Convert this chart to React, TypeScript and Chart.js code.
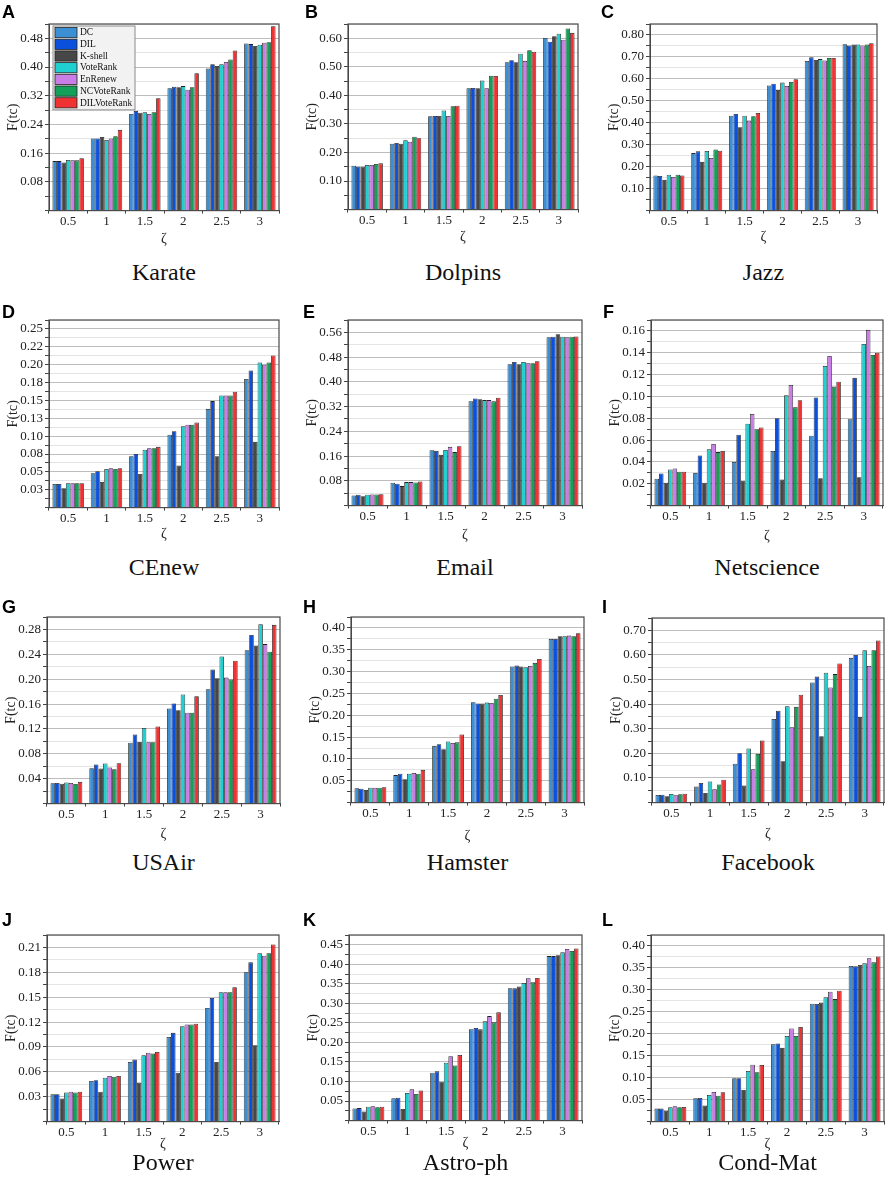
import React, { useEffect, useRef } from 'react';
import { Chart, registerables } from 'chart.js';

Chart.register(...registerables);
Chart.defaults.font.family = '"Liberation Serif", "Times New Roman", serif';
Chart.defaults.color = '#222';

// ---------- data ----------
const categories = ['0.5', '1', '1.5', '2', '2.5', '3'];
const seriesNames = ['DC', 'DIL', 'K-shell', 'VoteRank', 'EnRenew', 'NCVoteRank', 'DILVoteRank'];
const seriesColors = ['#3d8fd4', '#0a50dc', '#474747', '#20d0d0', '#c87ee6', '#15a05a', '#f03232'];

// rows: DC, DIL, K-shell, VoteRank, EnRenew, NCVoteRank, DILVoteRank ; columns: ζ categories
const karateValues = [
  [0.138, 0.201, 0.269, 0.341, 0.396, 0.466],
  [0.138, 0.201, 0.278, 0.345, 0.408, 0.464],
  [0.134, 0.205, 0.273, 0.344, 0.403, 0.459],
  [0.141, 0.197, 0.274, 0.347, 0.408, 0.462],
  [0.140, 0.201, 0.269, 0.337, 0.414, 0.468],
  [0.140, 0.207, 0.274, 0.344, 0.421, 0.469],
  [0.146, 0.225, 0.313, 0.383, 0.446, 0.514],
];
const karateTicks = ['0.08', '0.16', '0.24', '0.32', '0.40', '0.48'];

const dolpinsValues = [
  [0.154, 0.231, 0.327, 0.425, 0.516, 0.601],
  [0.151, 0.233, 0.328, 0.426, 0.523, 0.588],
  [0.151, 0.231, 0.328, 0.425, 0.516, 0.607],
  [0.156, 0.243, 0.347, 0.452, 0.546, 0.616],
  [0.156, 0.238, 0.328, 0.425, 0.521, 0.595],
  [0.160, 0.255, 0.362, 0.469, 0.558, 0.634],
  [0.162, 0.250, 0.364, 0.468, 0.553, 0.619],
];
const dolpinsTicks = ['0.10', '0.20', '0.30', '0.40', '0.50', '0.60'];

const jazzValues = [
  [0.160, 0.262, 0.432, 0.570, 0.682, 0.758],
  [0.158, 0.270, 0.440, 0.578, 0.698, 0.752],
  [0.140, 0.222, 0.380, 0.550, 0.686, 0.757],
  [0.163, 0.272, 0.432, 0.583, 0.690, 0.757],
  [0.153, 0.240, 0.410, 0.568, 0.684, 0.752],
  [0.163, 0.278, 0.430, 0.586, 0.695, 0.757],
  [0.160, 0.273, 0.445, 0.598, 0.695, 0.762],
];
const jazzTicks = ['0.10', '0.20', '0.30', '0.40', '0.50', '0.60', '0.70', '0.80'];

const cenewValues = [
  [0.033, 0.048, 0.072, 0.102, 0.138, 0.180],
  [0.033, 0.051, 0.075, 0.107, 0.149, 0.192],
  [0.027, 0.036, 0.047, 0.059, 0.072, 0.092],
  [0.034, 0.054, 0.081, 0.114, 0.157, 0.203],
  [0.034, 0.055, 0.083, 0.116, 0.157, 0.200],
  [0.034, 0.054, 0.083, 0.116, 0.157, 0.203],
  [0.034, 0.055, 0.085, 0.119, 0.162, 0.213],
];
const cenewTicks = ['0.03', '0.05', '0.08', '0.10', '0.13', '0.15', '0.18', '0.20', '0.22', '0.25'];

const emailValues = [
  [0.033, 0.074, 0.179, 0.337, 0.457, 0.544],
  [0.035, 0.071, 0.177, 0.346, 0.464, 0.546],
  [0.030, 0.063, 0.164, 0.344, 0.457, 0.554],
  [0.035, 0.076, 0.180, 0.341, 0.464, 0.546],
  [0.036, 0.076, 0.190, 0.341, 0.460, 0.544],
  [0.036, 0.075, 0.173, 0.337, 0.460, 0.546],
  [0.037, 0.078, 0.192, 0.349, 0.467, 0.547],
];
const emailTicks = ['0.08', '0.16', '0.24', '0.32', '0.40', '0.48', '0.56'];

const netscienceValues = [
  [0.0246, 0.030, 0.040, 0.050, 0.064, 0.079],
  [0.0295, 0.046, 0.065, 0.080, 0.099, 0.117],
  [0.021, 0.021, 0.023, 0.024, 0.025, 0.026],
  [0.033, 0.0515, 0.075, 0.101, 0.128, 0.148],
  [0.034, 0.0565, 0.084, 0.1105, 0.137, 0.161],
  [0.031, 0.049, 0.070, 0.090, 0.109, 0.138],
  [0.031, 0.050, 0.0715, 0.0965, 0.1135, 0.140],
];
const netscienceTicks = ['0.02', '0.04', '0.06', '0.08', '0.10', '0.12', '0.14', '0.16'];

const usairValues = [
  [0.0326, 0.057, 0.098, 0.153, 0.184, 0.2466],
  [0.033, 0.063, 0.111, 0.161, 0.2154, 0.271],
  [0.032, 0.0564, 0.099, 0.150, 0.2016, 0.254],
  [0.034, 0.0644, 0.1216, 0.1756, 0.2365, 0.2885],
  [0.033, 0.058, 0.0988, 0.146, 0.2026, 0.2564],
  [0.0315, 0.0554, 0.0988, 0.146, 0.1995, 0.2443],
  [0.035, 0.065, 0.124, 0.1725, 0.2297, 0.2874],
];
const usairTicks = ['0.04', '0.08', '0.12', '0.16', '0.20', '0.24', '0.28'];

const hamsterValues = [
  [0.033, 0.063, 0.130, 0.230, 0.3115, 0.375],
  [0.032, 0.066, 0.1335, 0.227, 0.3137, 0.375],
  [0.029, 0.0535, 0.122, 0.227, 0.3115, 0.381],
  [0.034, 0.066, 0.140, 0.229, 0.310, 0.381],
  [0.034, 0.068, 0.1365, 0.228, 0.313, 0.3824],
  [0.034, 0.066, 0.138, 0.238, 0.320, 0.381],
  [0.035, 0.075, 0.156, 0.2466, 0.329, 0.388],
];
const hamsterTicks = ['0.05', '0.10', '0.15', '0.20', '0.25', '0.30', '0.35', '0.40'];

const facebookValues = [
  [0.031, 0.065, 0.158, 0.340, 0.488, 0.588],
  [0.032, 0.080, 0.201, 0.373, 0.512, 0.600],
  [0.026, 0.039, 0.069, 0.168, 0.270, 0.348],
  [0.035, 0.086, 0.220, 0.391, 0.528, 0.619],
  [0.030, 0.054, 0.136, 0.306, 0.468, 0.555],
  [0.034, 0.074, 0.198, 0.389, 0.522, 0.619],
  [0.036, 0.093, 0.252, 0.438, 0.565, 0.659],
];
const facebookTicks = ['0.10', '0.20', '0.30', '0.40', '0.50', '0.60', '0.70'];

const powerValues = [
  [0.033, 0.049, 0.072, 0.102, 0.137, 0.180],
  [0.033, 0.050, 0.075, 0.107, 0.149, 0.192],
  [0.028, 0.036, 0.047, 0.059, 0.072, 0.092],
  [0.035, 0.053, 0.080, 0.115, 0.156, 0.203],
  [0.036, 0.055, 0.083, 0.117, 0.156, 0.200],
  [0.035, 0.054, 0.082, 0.117, 0.156, 0.203],
  [0.036, 0.055, 0.084, 0.118, 0.162, 0.2136],
];
const powerTicks = ['0.03', '0.06', '0.09', '0.12', '0.15', '0.18', '0.21'];

const astroValues = [
  [0.031, 0.057, 0.1225, 0.2335, 0.339, 0.421],
  [0.032, 0.0585, 0.126, 0.237, 0.3384, 0.421],
  [0.0235, 0.0295, 0.0995, 0.2335, 0.3435, 0.423],
  [0.0355, 0.0705, 0.148, 0.254, 0.352, 0.4306],
  [0.037, 0.080, 0.165, 0.2675, 0.364, 0.439],
  [0.034, 0.068, 0.141, 0.2514, 0.3538, 0.434],
  [0.0355, 0.0773, 0.168, 0.277, 0.3649, 0.4407],
];
const astroTicks = ['0.05', '0.10', '0.15', '0.20', '0.25', '0.30', '0.35', '0.40', '0.45'];

const condmatValues = [
  [0.0296, 0.053, 0.0986, 0.176, 0.2686, 0.3543],
  [0.0296, 0.054, 0.0986, 0.178, 0.268, 0.3536],
  [0.025, 0.0364, 0.072, 0.168, 0.271, 0.3566],
  [0.0326, 0.0607, 0.1153, 0.195, 0.283, 0.3604],
  [0.035, 0.0675, 0.1297, 0.212, 0.296, 0.3718],
  [0.0326, 0.059, 0.1123, 0.195, 0.279, 0.3627],
  [0.0334, 0.0668, 0.129, 0.2155, 0.298, 0.3763],
];
const condmatTicks = ['0.05', '0.10', '0.15', '0.20', '0.25', '0.30', '0.35', '0.40'];

type Spec = {
  letter: string;
  name: string;
  values: number[][];
  tickLabels: string[];
  major: number;
  max: number;
  legend?: boolean;
};

const panels: Spec[] = [
  { letter: 'A', name: 'Karate', values: karateValues, tickLabels: karateTicks, major: 0.08, max: 0.52, legend: true },
  { letter: 'B', name: 'Dolpins', values: dolpinsValues, tickLabels: dolpinsTicks, major: 0.1, max: 0.65 },
  { letter: 'C', name: 'Jazz', values: jazzValues, tickLabels: jazzTicks, major: 0.1, max: 0.85 },
  { letter: 'D', name: 'CEnew', values: cenewValues, tickLabels: cenewTicks, major: 0.025, max: 0.2625 },
  { letter: 'E', name: 'Email', values: emailValues, tickLabels: emailTicks, major: 0.08, max: 0.6 },
  { letter: 'F', name: 'Netscience', values: netscienceValues, tickLabels: netscienceTicks, major: 0.02, max: 0.17 },
  { letter: 'G', name: 'USAir', values: usairValues, tickLabels: usairTicks, major: 0.04, max: 0.3 },
  { letter: 'H', name: 'Hamster', values: hamsterValues, tickLabels: hamsterTicks, major: 0.05, max: 0.425 },
  { letter: 'I', name: 'Facebook', values: facebookValues, tickLabels: facebookTicks, major: 0.1, max: 0.75 },
  { letter: 'J', name: 'Power', values: powerValues, tickLabels: powerTicks, major: 0.03, max: 0.225 },
  { letter: 'K', name: 'Astro-ph', values: astroValues, tickLabels: astroTicks, major: 0.05, max: 0.475 },
  { letter: 'L', name: 'Cond-Mat', values: condmatValues, tickLabels: condmatTicks, major: 0.05, max: 0.425 },
];

// ---------- layout (page pixels) ----------
type Frame = { l: number; r: number; t: number; b: number; xt: number; title: number; cap: number; lx: number };
const frames: Frame[] = [
  { l: 49, r: 279, t: 24, b: 211, xt: 29, title: 272, cap: 5, lx: 2 },
  { l: 348, r: 578, t: 24, b: 210, xt: 28, title: 272, cap: 5, lx: 305 },
  { l: 650, r: 877, t: 24, b: 211, xt: 27, title: 272, cap: 5, lx: 601 },
  { l: 49, r: 279, t: 320, b: 508, xt: 27, title: 567, cap: 305, lx: 2 },
  { l: 348, r: 582, t: 320, b: 506, xt: 30, title: 567, cap: 305, lx: 303 },
  { l: 651, r: 883, t: 320, b: 506, xt: 31, title: 567, cap: 305, lx: 603 },
  { l: 47, r: 280, t: 617, b: 804, xt: 31, title: 862, cap: 600, lx: 2 },
  { l: 351, r: 584, t: 617, b: 803, xt: 34, title: 862, cap: 600, lx: 303 },
  { l: 652, r: 884, t: 618, b: 803, xt: 32, title: 862, cap: 600, lx: 602 },
  { l: 47, r: 279, t: 935, b: 1122, xt: 23, title: 1162, cap: 913, lx: 2 },
  { l: 349, r: 582, t: 935, b: 1121, xt: 23, title: 1162, cap: 913, lx: 303 },
  { l: 651, r: 884, t: 935, b: 1122, xt: 23, title: 1162, cap: 913, lx: 602 },
];

// ---------- plugins ----------
const frameBoxPlugin = {
  id: 'frameBox',
  afterDraw(chart: any) {
    const { ctx, chartArea } = chart;
    const { left, top, right, bottom } = chartArea;
    ctx.save();
    ctx.strokeStyle = '#4a4a4a';
    ctx.lineWidth = 1.2;
    ctx.strokeRect(left, top, right - left, bottom - top);
    ctx.restore();
  },
};

const insideLegendPlugin = {
  id: 'insideLegend',
  afterDraw(chart: any, _args: any, opts: any) {
    if (!opts || !opts.display) return;
    const { ctx, chartArea } = chart;
    const x0 = chartArea.left + 4;
    const y0 = chartArea.top + 2;
    const rowH = 11.7;
    const n = chart.data.datasets.length;
    const w = 82;
    const h = n * rowH + 2;
    ctx.save();
    ctx.fillStyle = '#f2f2f2';
    ctx.fillRect(x0, y0, w, h);
    ctx.strokeStyle = '#8a8a8a';
    ctx.lineWidth = 1;
    ctx.strokeRect(x0, y0, w, h);
    ctx.font = '9.5px "Liberation Serif", "Times New Roman", serif';
    ctx.textBaseline = 'middle';
    ctx.textAlign = 'left';
    chart.data.datasets.forEach((ds: any, i: number) => {
      const yy = y0 + 1 + i * rowH;
      ctx.fillStyle = ds.backgroundColor;
      ctx.fillRect(x0 + 2, yy + 0.5, 22, rowH - 1.5);
      ctx.strokeStyle = '#222';
      ctx.lineWidth = 0.8;
      ctx.strokeRect(x0 + 2, yy + 0.5, 22, rowH - 1.5);
      ctx.fillStyle = '#111';
      ctx.fillText(ds.label, x0 + 27, yy + rowH / 2);
    });
    ctx.restore();
  },
};

const Y_W = 48;
const PAD_T = 10;
const PAD_R = 4;

function Panel({ spec, frame }: { spec: Spec; frame: Frame }) {
  const ref = useRef<HTMLCanvasElement>(null);
  const xH = frame.xt + 8.4 + 2;
  const w = Y_W + (frame.r - frame.l) + PAD_R;
  const h = PAD_T + (frame.b - frame.t) + xH;

  useEffect(() => {
    if (!ref.current) return;
    const minor = spec.major / 2;
    const isMajor = (v: number) => {
      const k = Math.round(v / minor);
      return Math.abs(v - k * minor) < minor * 1e-3 && k % 2 === 0;
    };
    const chart = new Chart(ref.current, {
      type: 'bar',
      data: {
        labels: categories,
        datasets: seriesNames.map((name, i) => ({
          label: name,
          data: spec.values[i],
          backgroundColor: seriesColors[i],
          borderColor: '#222',
          borderWidth: 0.8,
          categoryPercentage: 0.82,
          barPercentage: 1.0,
        })),
      },
      options: {
        responsive: false,
        animation: false,
        events: [],
        layout: { padding: { top: PAD_T, right: PAD_R, left: 0, bottom: 0 } },
        plugins: {
          legend: { display: false },
          tooltip: { enabled: false },
          // @ts-ignore
          insideLegend: { display: !!spec.legend },
        },
        scales: {
          x: {
            grid: { display: true, drawOnChartArea: false, drawTicks: true, tickLength: 3, color: '#444', offset: true },
            border: { display: true, color: '#444' },
            ticks: { font: { size: 13 }, color: '#222', padding: 0, maxRotation: 0, autoSkip: false },
            title: { display: true, text: 'ζ', font: { size: 14 }, color: '#222', padding: { top: 0, bottom: 2 } },
            afterFit: (s: any) => {
              s.height = xH;
            },
          },
          y: {
            min: 0,
            max: spec.max,
            ticks: {
              stepSize: minor,
              maxTicksLimit: 200,
              autoSkip: false,
              font: { size: 13 },
              color: '#222',
              padding: 2,
              callback: (value: any) => {
                const v = Number(value);
                const k = Math.round(v / minor);
                if (Math.abs(v - k * minor) > minor * 1e-3) return '';
                if (k <= 0 || k % 2 !== 0) return '';
                return spec.tickLabels[k / 2 - 1] ?? '';
              },
            },
            grid: {
              color: (c: any) => (c.tick && isMajor(c.tick.value) ? '#bdbdbd' : '#e4e4e4'),
              tickColor: '#444',
              tickLength: 4,
            },
            border: { display: true, color: '#444' },
            title: { display: true, text: 'F(tc)', font: { size: 14 }, color: '#222', padding: { top: 4, bottom: 0 } },
            afterFit: (s: any) => {
              s.width = Y_W;
            },
          },
        },
      } as any,
      plugins: [frameBoxPlugin, insideLegendPlugin],
    });
    return () => chart.destroy();
  }, []);

  return (
    <>
      <canvas
        ref={ref}
        width={w}
        height={h}
        style={{ position: 'absolute', left: frame.l - Y_W, top: frame.t - PAD_T, width: w, height: h }}
      />
      <div
        style={{
          position: 'absolute',
          left: frame.lx,
          top: frame.cap - 2.3,
          fontFamily: '"Liberation Sans", Arial, sans-serif',
          fontWeight: 'bold',
          fontSize: 18,
          lineHeight: '18px',
          color: '#000',
        }}
      >
        {spec.letter}
      </div>
      <div
        style={{
          position: 'absolute',
          left: frame.l - 20,
          width: frame.r - frame.l + 40,
          top: frame.title - 12,
          textAlign: 'center',
          fontFamily: '"Liberation Serif", "Times New Roman", serif',
          fontSize: 24,
          lineHeight: '24px',
          color: '#111',
          whiteSpace: 'nowrap',
        }}
      >
        {spec.name}
      </div>
    </>
  );
}

export default function App() {
  return (
    <div
      style={{
        position: 'absolute',
        left: 0,
        top: 0,
        width: 892,
        height: 1193,
        background: '#fff',
        overflow: 'hidden',
      }}
    >
      {panels.map((p, i) => (
        <Panel key={p.letter} spec={p} frame={frames[i]} />
      ))}
    </div>
  );
}
